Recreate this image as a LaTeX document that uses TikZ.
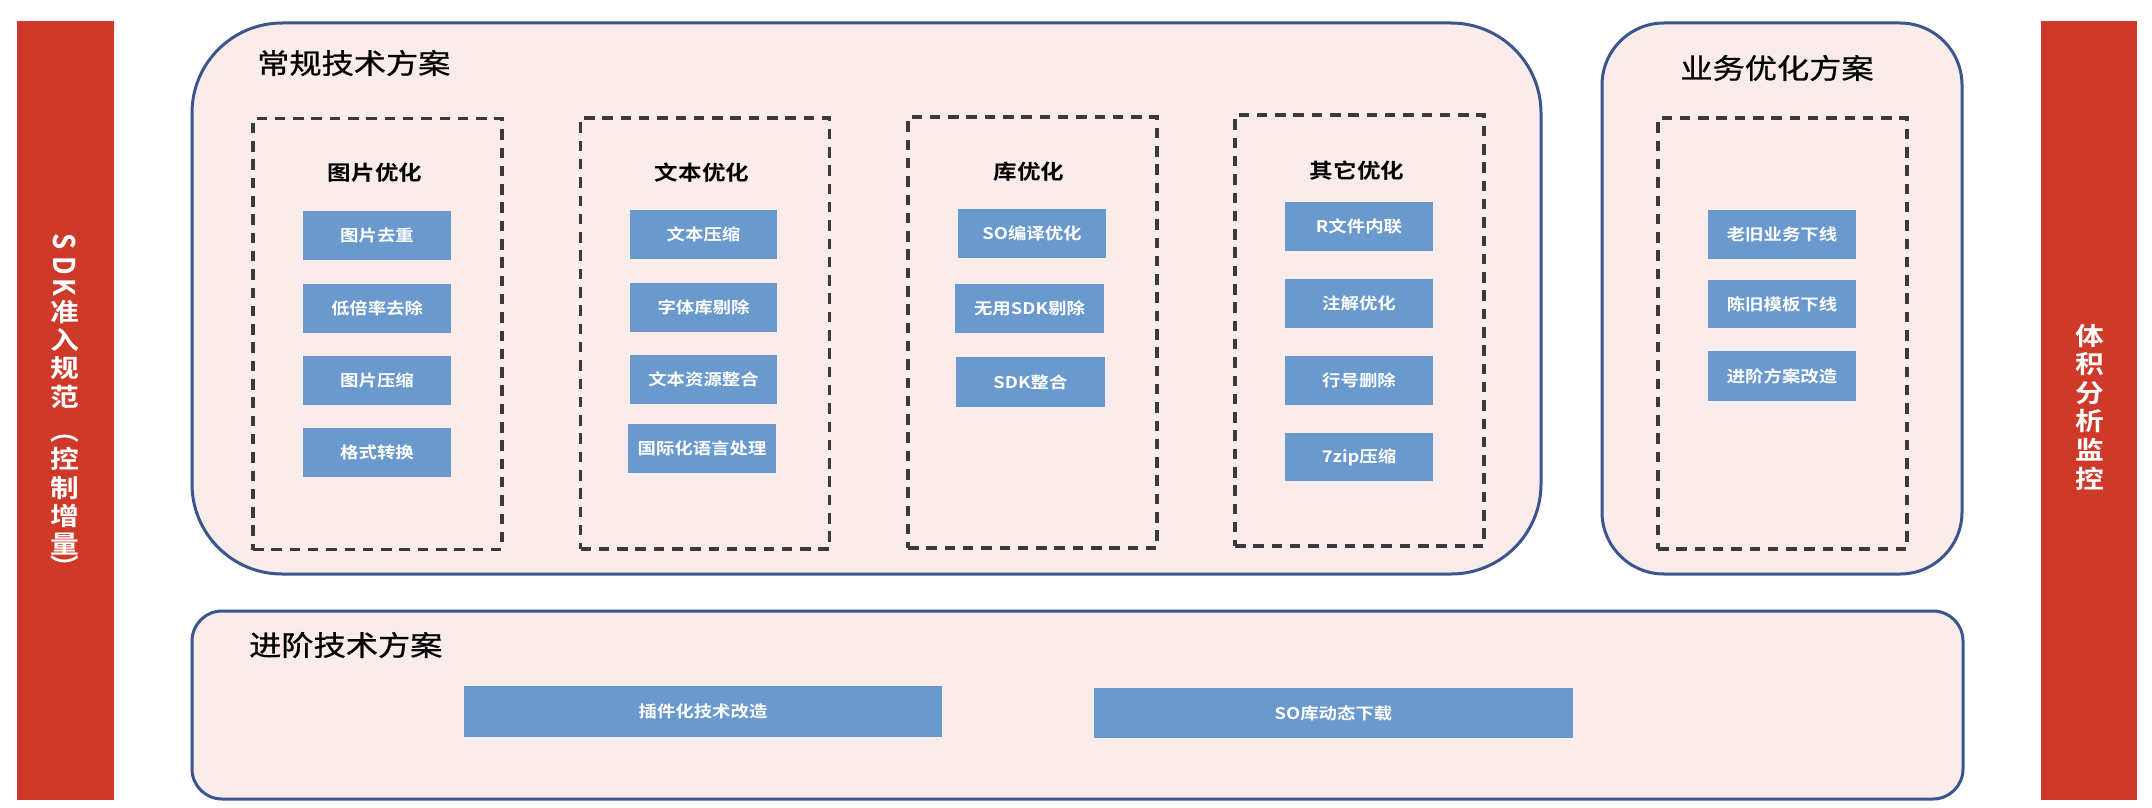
\documentclass[tikz,border=0pt]{standalone}
\usepackage{fontspec}
\setmainfont{Noto Sans CJK SC}[BoldFont={Noto Sans CJK SC Bold}]
\newfontfamily\titlefont{Noto Sans CJK SC}[FakeBold=0.8]
\usepackage{graphicx}
\definecolor{barred}{HTML}{CF3929}
\definecolor{panelfill}{HTML}{F9ECEB}
\definecolor{panelline}{HTML}{3B558F}
\definecolor{itemblue}{HTML}{6A99CE}
\definecolor{dashgray}{HTML}{3A3A3A}
\newcommand{\stx}[1]{\scalebox{1.15}[1]{#1}}
\begin{document}
\begin{tikzpicture}[x=1pt,y=-1pt,
  redbar/.style={rectangle,fill=barred,draw=none,inner sep=0pt},
  panel/.style={rectangle,draw=panelline,line width=3pt,fill=panelfill,inner sep=0pt},
  dashbox/.style={rectangle,draw=dashgray,line width=3.2pt,dash pattern=on 10.5pt off 7.8pt,inner sep=0pt,minimum width=249pt,minimum height=431pt},
  item/.style={rectangle,fill=itemblue,draw=none,inner sep=0pt,text=white,font=\bfseries\fontsize{16pt}{19pt}\selectfont,minimum width=148pt,minimum height=49pt},
  headtext/.style={inner sep=0pt,text=black,font=\bfseries\fontsize{20.5pt}{24pt}\selectfont},
  titletext/.style={inner sep=0pt,text=black,font=\titlefont\fontsize{28pt}{32pt}\selectfont},
  bartext/.style={inner sep=0pt,text=white,font=\bfseries\fontsize{25pt}{28pt}\selectfont},
  barletter/.style={inner sep=0pt,text=white,font=\bfseries\fontsize{26pt}{28pt}\selectfont}
]
\useasboundingbox (0,0) rectangle (2152,808);
\fill[white] (0,0) rectangle (2152,808);

% side bars
\node[redbar,minimum width=97pt,minimum height=779pt] (lbar) at (65.5,410.5) {};
\node[redbar,minimum width=96pt,minimum height=779pt] (rbar) at (2089,410.5) {};

% panels
\node[panel,minimum width=1349pt,minimum height=551pt,rounded corners=90pt] (main) at (866.5,298.5) {};
\node[panel,minimum width=360pt,minimum height=551pt,rounded corners=62pt] (biz) at (1782,298.5) {};
\node[panel,minimum width=1771pt,minimum height=188pt,rounded corners=30pt] (adv) at (1077.5,705) {};

% titles
\node[titletext,anchor=west] (tmain) at (257,63) {\stx{常规技术方案}};
\node[titletext] (tbiz) at (1777,68) {\stx{业务优化方案}};
\node[titletext,anchor=west] (tadv) at (249,645) {\stx{进阶技术方案}};

% dashed groups
\node[dashbox] (d1) at (377.5,334) {};
\node[dashbox] (d2) at (705,333.5) {};
\node[dashbox] (d3) at (1032.5,332.5) {};
\node[dashbox] (d4) at (1359.5,330.5) {};
\node[dashbox] (d5) at (1782.5,333.5) {};

% headings
\node[headtext] (h1) at (375,173) {\stx{图片优化}};
\node[headtext] (h2) at (702,173) {\stx{文本优化}};
\node[headtext] (h3) at (1029,172) {\stx{库优化}};
\node[headtext] (h4) at (1357,171) {\stx{其它优化}};

% column 1
\node[item] (a1) at (377,235.5) {\stx{图片去重}};
\node[item] (a2) at (377,308.5) {\stx{低倍率去除}};
\node[item] (a3) at (377,380) {\stx{图片压缩}};
\node[item] (a4) at (377,452.5) {\stx{格式转换}};
% column 2
\node[item,minimum width=147pt] (b1) at (703.5,234.5) {\stx{文本压缩}};
\node[item,minimum width=147pt] (b2) at (703.5,307) {\stx{字体库剔除}};
\node[item,minimum width=147pt] (b3) at (703.5,379) {\stx{文本资源整合}};
\node[item] (b4) at (702,448.5) {\stx{国际化语言处理}};
% column 3
\node[item] (c1) at (1032,233.5) {\stx{SO编译优化}};
\node[item,minimum width=149pt] (c2) at (1029.5,308.5) {\stx{无用SDK剔除}};
\node[item,minimum width=149pt,minimum height=50pt] (c3) at (1030.5,382) {\stx{SDK整合}};
% column 4
\node[item] (e1) at (1359,226.5) {\stx{R文件内联}};
\node[item] (e2) at (1359,303.5) {\stx{注解优化}};
\node[item] (e3) at (1359,380.5) {\stx{行号删除}};
\node[item,minimum height=48pt] (e4) at (1359,457) {\stx{7zip压缩}};
% column 5
\node[item] (f1) at (1782,234) {\stx{老旧业务下线}};
\node[item,minimum height=48pt] (f2) at (1782,304) {\stx{陈旧模板下线}};
\node[item,minimum height=50pt] (f3) at (1782,376) {\stx{进阶方案改造}};
% advanced
\node[item,minimum width=478pt,minimum height=51pt] (g1) at (703,711.5) {\stx{插件化技术改造}};
\node[item,minimum width=479pt,minimum height=50pt] (g2) at (1333.5,713) {\stx{SO库动态下载}};

% left bar text
\node[barletter] (ls) at (65,242) {\stx{\rotatebox{-90}{S}}};
\node[barletter] (ld) at (65,265.5) {\stx{\rotatebox{-90}{D}}};
\node[barletter] (lk) at (65,287.5) {\stx{\rotatebox{-90}{K}}};
\foreach \ch/\yy [count=\i] in {准/312,入/340,规/368,范/397,︵/439,控/459,制/488,增/516,量/544,︶/566}
  \node[bartext] (lc\i) at (65,\yy) {\stx{\ch}};

% right bar text
\foreach \ch/\yy [count=\i] in {体/336,积/364,分/393,析/421,监/450,控/479}
  \node[bartext] (rc\i) at (2089.5,\yy) {\stx{\ch}};
\end{tikzpicture}
\end{document}
